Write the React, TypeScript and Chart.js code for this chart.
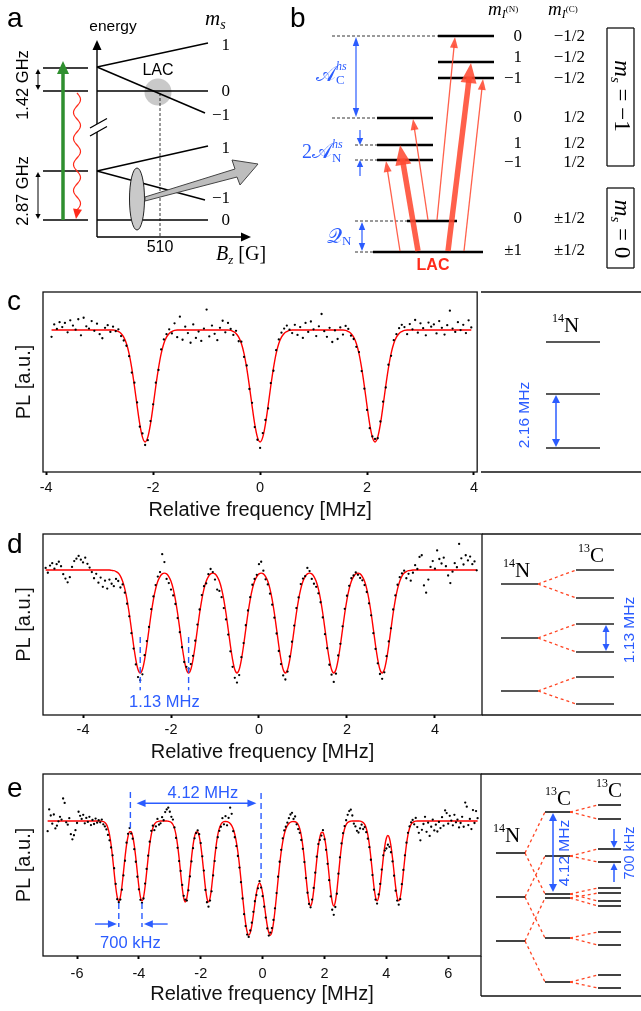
import { useEffect, useRef } from "react";
import { Chart, registerables } from "chart.js";
Chart.register(...registerables);

const SANS = '"Liberation Sans", Arial, Helvetica, sans-serif';
const SERIF = '"Liberation Serif", "DejaVu Serif", serif';
const BLUE = "#2b5cff";
const FIT_RED = "#ff0000";
const LINK_RED = "#ff4422";
const ARROW_RED = "rgba(255,74,50,0.88)";
const sans = (s: number, w = "") => `${w} ${s}px ${SANS}`.trim();
const serif = (s: number, st = "") => `${st} ${s}px ${SERIF}`.trim();

// ---------------- panel c : 14N hyperfine spectrum ----------------
const C_X_START = -3.9;
const C_X_STEP = 0.05;
const C_TICKS = [-4, -2, 0, 2, 4];
const C_PL = [
  98.2, 101.5, 100.3, 102.1, 100.8, 101.9, 99.4, 102.6, 101.2, 100.1,
  102.9, 98.6, 103.3, 101.0, 100.4, 102.4, 99.8, 101.7, 98.9, 97.8,
  100.6, 101.3, 99.5, 100.9, 99.7, 100.2,
  98.4, 97.2, 95.8, 93.0, 88.6, 85.9, 80.6, 74.1, 72.3, 69.2,
  70.5, 75.6, 80.1, 85.9, 89.3, 94.8, 97.5, 98.9, 100.2, 99.1,
  101.8, 98.1, 103.6, 97.4, 100.9, 99.2, 96.6, 101.5, 97.9, 99.6,
  97.1, 100.4, 105.5, 98.3, 101.2, 99.0, 97.3, 100.6, 102.5, 99.4,
  101.9, 100.3,
  98.7, 99.8, 97.0, 96.9, 92.8, 90.5, 84.2, 80.5, 74.0, 70.6,
  68.4, 72.4, 75.9, 79.0, 85.8, 89.1, 94.6, 97.5, 99.3, 100.4,
  101.2,
  100.1, 99.2, 101.4, 98.7, 100.8, 97.9, 101.9, 99.5, 102.3, 100.2,
  98.4, 101.0, 104.3, 99.7, 98.2, 100.6, 96.8, 99.9, 97.6, 100.7,
  98.8, 101.1,
  100.3, 98.5, 97.6, 95.5, 94.1, 89.0, 84.3, 78.6, 73.7, 71.5,
  70.8, 71.0, 75.5, 80.8, 84.6, 90.7, 93.1, 97.3, 98.9, 100.5,
  101.4,
  100.8, 98.9, 101.6, 100.2, 102.7, 99.3, 101.8, 100.5, 98.6, 102.0,
  100.9, 101.5, 99.1, 102.4, 100.6, 98.8, 101.3, 105.2, 100.4, 99.5,
  102.1, 100.0, 101.4, 99.2, 102.6, 100.7,
];
const C_FIT = [
  100, 100, 100, 100, 100, 100, 100, 100, 100, 100,
  100, 100, 100, 100, 100, 100, 100, 100, 100, 100,
  100, 100, 100, 100,
  99.9, 99.6, 99.1, 98.1, 96.4, 93.7, 89.8, 85.0, 79.7, 74.8, 71.3, 70.0,
  71.3, 74.8, 79.7, 85.0, 89.8, 93.7, 96.4, 98.1, 99.1, 99.6, 99.9,
  100, 100, 100, 100, 100, 100, 100, 100, 100, 100,
  100, 100, 100, 100, 100, 100, 100, 100, 100, 100,
  99.9, 99.6, 99.1, 98.1, 96.4, 93.7, 89.8, 85.0, 79.7, 74.8, 71.3, 70.0,
  71.3, 74.8, 79.7, 85.0, 89.8, 93.7, 96.4, 98.1, 99.1, 99.6, 99.9,
  100, 100, 100, 100, 100, 100, 100, 100, 100, 100,
  100, 100, 100, 100, 100, 100, 100, 100, 100, 100,
  99.9, 99.6, 99.1, 98.1, 96.4, 93.7, 89.8, 85.0, 79.7, 74.8, 71.3, 70.0,
  71.3, 74.8, 79.7, 85.0, 89.8, 93.7, 96.4, 98.1, 99.1, 99.6, 99.9,
  100, 100, 100, 100, 100, 100, 100, 100, 100, 100,
  100, 100, 100, 100, 100, 100, 100, 100, 100, 100,
  100, 100, 100, 100, 100,
];

// ---------------- panel d : 14N + one 13C ----------------
const D_X_START = -4.85;
const D_X_STEP = 0.05;
const D_TICKS = [-4, -2, 0, 2, 4];
const D_PL = [
  100.6, 99.2, 101.3, 102.0, 100.4, 101.7, 102.4, 101.1, 98.8, 97.5,
  96.4, 97.9, 100.9, 102.6, 103.3, 104.1, 103.0, 102.2, 103.6, 101.8,
  100.7, 99.4, 97.6, 98.9, 96.3, 97.8, 95.1, 96.9, 94.6, 97.2,
  96.0, 95.3, 97.4, 96.8, 94.9, 95.8, 93.4, 90.2, 86.5, 81.6, 77.1, 72.5, 68.8, 67.9,
  69.6, 75.2, 79.3, 83.4, 88.6, 92.3, 95.6, 98.1, 99.4, 104.6, 102.3,
  97.4, 96.2, 94.3, 92.6, 90.1, 86.0, 81.9, 77.5, 73.2, 71.8, 71.2,
  72.6, 75.0, 79.4, 84.1, 88.5, 92.7, 95.3, 96.1, 98.8, 100.3, 99.4,
  97.2, 94.3, 93.9, 92.1, 88.9, 85.6, 81.2, 76.3, 71.8, 68.6, 67.2,
  69.4, 74.6, 78.7, 83.9, 88.2, 92.1, 95.7, 97.4, 98.6, 101.7, 102.4,
  99.8, 97.3, 95.8, 93.1, 89.9, 86.1, 81.5, 76.4, 72.6, 69.3, 68.1,
  70.4, 74.8, 79.1, 83.8, 88.9, 92.0, 95.9, 97.5, 98.2, 100.6, 99.7,
  97.4, 96.0, 95.1, 93.2, 90.6, 86.2, 81.3, 77.2, 72.4, 69.5, 67.4,
  69.8, 75.1, 78.5, 83.6, 88.7, 92.5, 95.4, 97.6, 98.4, 99.3, 98.6,
  97.7, 97.0, 95.6, 93.6, 90.3, 86.8, 81.6, 77.0, 72.8, 69.7, 68.3,
  70.2, 74.9, 79.2, 83.0, 88.5, 92.6, 95.7, 97.9, 99.0, 99.8, 97.6, 98.9, 96.9,
  99.2, 101.4, 100.3, 103.8, 104.3, 95.5, 93.4, 97.2, 100.9, 102.6,
  100.4, 105.7, 103.2, 101.9, 103.6, 101.1, 98.4, 96.2, 99.5, 102.0,
  100.8, 107.6, 103.4, 101.6, 104.3, 102.8, 103.9, 101.7, 102.5, 99.9,
];
const D_FIT = [
  100, 100, 100, 100, 100, 100, 100, 100, 100, 100,
  100, 100, 100, 100, 100, 100, 100, 100, 100, 100,
  100, 100, 100, 100, 100, 100, 100, 100, 100, 100,
  99.9, 99.8, 99.55, 99.1, 98.2, 96.7, 94.5, 91.4, 87.4, 82.75, 78.0, 73.9, 71.0, 70.0,
  71.0, 73.9, 78.0, 82.75, 87.4, 91.4, 94.5, 96.7, 98.1, 98.86, 99.09,
  98.86, 98.1, 96.7, 94.5, 91.4, 87.4, 82.75, 78.0, 73.9, 71.0, 70.0,
  71.0, 73.9, 78.0, 82.75, 87.4, 91.4, 94.5, 96.7, 98.1, 98.86, 99.09,
  98.86, 98.1, 96.7, 94.5, 91.4, 87.4, 82.75, 78.0, 73.9, 71.0, 70.0,
  71.0, 73.9, 78.0, 82.75, 87.4, 91.4, 94.5, 96.7, 98.1, 98.86, 99.09,
  98.86, 98.1, 96.7, 94.5, 91.4, 87.4, 82.75, 78.0, 73.9, 71.0, 70.0,
  71.0, 73.9, 78.0, 82.75, 87.4, 91.4, 94.5, 96.7, 98.1, 98.86, 99.09,
  98.86, 98.1, 96.7, 94.5, 91.4, 87.4, 82.75, 78.0, 73.9, 71.0, 70.0,
  71.0, 73.9, 78.0, 82.75, 87.4, 91.4, 94.5, 96.7, 98.1, 98.86, 99.09,
  98.86, 98.1, 96.7, 94.5, 91.4, 87.4, 82.75, 78.0, 73.9, 71.0, 70.0,
  71.0, 73.9, 78.0, 82.75, 87.4, 91.4, 94.5, 96.7, 98.2, 99.1, 99.55, 99.8, 99.9,
  100, 100, 100, 100, 100, 100, 100, 100, 100, 100,
  100, 100, 100, 100, 100, 100, 100, 100, 100, 100,
  100, 100, 100, 100, 100, 100, 100, 100, 100, 100,
];
const D_MARK_X = [-2.7, -1.6];
const D_MARK_Y = [80.5, 65.0];
const D_MARK_LABEL = "1.13 MHz";

// ---------------- panel e : 14N + two 13C ----------------
const E_X_START = -6.95;
const E_X_STEP = 0.05;
const E_TICKS = [-6, -4, -2, 0, 2, 4, 6];
const E_PL = [
  97.0, 103.4, 101.6, 99.2, 101.9, 97.8, 98.6, 99.9, 101.2, 100.4,
  106.6, 105.3, 99.6, 98.9, 100.8, 96.1, 94.6, 95.8, 97.3, 99.4,
  102.7, 101.5, 100.6, 101.8, 99.3, 100.9, 99.7, 101.2, 98.8, 100.3,
  99.1, 100.7, 99.5, 100.2, 99.6,
  100.4, 99.0, 98.4, 97.5, 95.9, 94.3, 92.2, 89.9, 86.1, 81.5,
  77.0, 76.1, 76.9, 79.8, 84.0, 88.3, 93.6, 96.2, 97.9, 96.3,
  94.8, 91.7, 88.0, 83.6, 79.9, 76.8, 75.9, 77.2, 81.6, 85.9,
  89.8, 93.9, 97.1, 98.6, 97.3, 98.4, 100.6, 98.9,
  99.3, 101.1, 100.2, 102.6, 103.4,
  103.9, 102.7, 101.2, 100.4, 98.1, 95.0, 92.1, 88.2, 85.3, 81.2,
  78.0, 76.9, 76.6, 79.6, 83.7, 88.1, 92.0, 94.9, 96.4, 97.2,
  96.1, 93.5, 89.6, 85.4, 79.7, 76.1, 74.8, 76.6, 79.3, 84.0,
  88.2, 92.1, 95.2, 97.1, 98.3, 100.8, 99.0, 101.4, 98.7, 100.9,
  103.9, 102.1, 97.0, 95.2, 92.6, 89.7, 86.3, 82.0, 77.2, 72.6,
  69.1, 66.6, 65.9, 67.8, 70.1, 73.3, 76.4, 78.2, 80.2, 82.3,
  80.4, 77.9, 74.8, 71.6, 68.4, 66.3, 67.2, 68.5, 70.9, 74.3,
  78.8, 83.6, 88.0, 91.5, 94.9, 97.2, 98.3, 99.5, 100.8, 101.9,
  102.4, 100.6, 101.3,
  99.0, 97.6, 96.5, 94.4, 91.8, 87.9, 83.2, 78.9, 75.6, 74.6,
  76.9, 80.3, 84.8, 89.5, 93.2, 94.4, 95.7, 97.3, 94.6, 91.5,
  87.4, 82.6, 77.8, 73.9, 72.4, 74.7, 78.6, 84.5, 89.3, 93.4,
  96.4, 98.5, 100.2, 101.8, 102.9, 103.3,
  101.6, 99.2, 98.4, 97.1, 96.6,
  97.8, 98.9, 97.6, 98.2, 96.7, 94.8, 92.3, 88.6, 84.1, 79.8,
  76.9, 75.7, 78.4, 81.5, 85.7, 89.9, 91.3, 91.9, 93.0, 92.4,
  90.8, 88.1, 83.9, 79.5, 76.6, 75.4, 77.0, 81.4, 85.6, 89.9,
  93.6, 96.5, 98.4, 99.6, 100.3, 99.0, 100.9,
  98.2, 96.5, 94.3, 97.4, 99.1, 101.2, 96.8, 99.5, 95.6, 98.3,
  100.4, 97.2, 98.9, 96.9, 99.7, 97.9, 101.1, 98.6, 103.1, 102.3,
  99.2, 101.5, 100.1, 98.7, 101.8, 99.6, 100.4, 98.1, 99.4, 101.2,
  98.3, 105.4, 104.2, 98.8, 100.6, 97.6, 103.2, 99.4, 102.9, 100.8,
];
const E_FIT = [
  100, 100, 100, 100, 100, 100, 100, 100, 100, 100,
  100, 100, 100, 100, 100, 100, 100, 100, 100, 100,
  100, 100, 100, 100, 100, 100, 100, 100, 100, 100,
  100, 100, 100, 100, 100,
  99.9, 99.8, 99.55, 98.97, 97.85, 95.96, 93.07, 89.24, 84.87, 80.66,
  77.63, 76.5, 77.63, 80.66, 84.85, 89.17, 92.89, 95.51, 96.82, 96.82,
  95.51, 92.89, 89.17, 84.85, 80.66, 77.63, 76.5, 77.63, 80.66, 84.87,
  89.24, 93.07, 95.96, 97.85, 98.97, 99.55, 99.8, 99.9,
  100, 100, 100, 100, 100,
  99.9, 99.82, 99.54, 98.95, 97.82, 95.91, 92.98, 89.1, 84.67, 80.41,
  77.34, 76.2, 77.34, 80.41, 84.65, 89.04, 92.8, 95.45, 96.77, 96.77,
  95.45, 92.8, 89.04, 84.65, 80.41, 77.34, 76.2, 77.34, 80.41, 84.67,
  89.1, 92.98, 95.91, 97.82, 98.95, 99.54, 99.78, 99.85, 99.79, 99.62,
  99.26, 98.64, 97.64, 96.09, 93.85, 90.88, 87.11, 82.77, 78.12, 73.68,
  69.97, 67.38, 66.41, 67.09, 69.23, 72.32, 75.76, 78.86, 80.96, 81.76,
  80.96, 78.86, 75.76, 72.32, 69.23, 67.09, 66.41, 67.38, 69.97, 73.68,
  78.12, 82.77, 87.11, 90.88, 93.85, 96.09, 97.64, 98.64, 99.26, 99.62,
  99.79, 99.84, 99.77,
  99.52, 98.9, 97.71, 95.7, 92.62, 88.55, 83.9, 79.42, 76.2, 75.0,
  76.2, 79.42, 83.88, 88.48, 92.43, 95.22, 96.61, 96.61, 95.22, 92.43,
  88.48, 83.88, 79.42, 76.2, 75.0, 76.2, 79.42, 83.9, 88.55, 92.62,
  95.7, 97.71, 98.9, 99.52, 99.81, 99.93,
  100, 100, 100, 100, 100,
  99.94, 99.82, 99.55, 98.97, 97.85, 95.96, 93.07, 89.24, 84.87, 80.66,
  77.63, 76.5, 77.63, 80.64, 84.81, 89.06, 92.62, 94.93, 95.7, 94.93,
  92.62, 89.06, 84.81, 80.64, 77.63, 76.5, 77.63, 80.66, 84.87, 89.24,
  93.07, 95.96, 97.85, 98.97, 99.55, 99.82, 99.94,
  100, 100, 100, 100, 100, 100, 100, 100, 100, 100,
  100, 100, 100, 100, 100, 100, 100, 100, 100, 100,
  100, 100, 100, 100, 100, 100, 100, 100, 100, 100,
  100, 100, 100, 100, 100, 100, 100, 100, 100, 100,
];
const E_SPLIT_X = [-4.275, -0.05];
const E_SPLIT_TOP = [108.5, 108.2];
const E_SPLIT_BOTTOM = [96.8, 83.2];
const E_SPLIT_LABEL = "4.12 MHz";
const E_PAIR_X = [-4.65, -3.9];
const E_PAIR_Y = [75.9, 68.8];
const E_PAIR_LABEL = "700 kHz";

// ---------------- schematic level diagrams (page units) ----------------
const A_LEVELS = [[43, 68, 88, 68], [43, 91, 88, 91], [43, 171, 88, 171], [43, 220, 88, 220]];
const A_ZEEMAN = [[97, 67, 208, 43], [97, 67, 205, 113], [97, 91, 208, 91], [97, 171, 208, 146], [97, 171, 205, 200], [97, 220, 208, 220]];
const A_MS = ["1", "0", "−1", "1", "−1", "0"];
const A_MS_Y = [46, 92, 116, 149, 199, 221];
const A_GUIDE = [[160, 93, 160, 237]];

const B_LEVELS = [[438, 36, 494, 36], [438, 62, 494, 62], [438, 78, 494, 78], [377, 118, 433, 118], [377, 145, 433, 145], [377, 160, 433, 160], [407, 221, 457, 221], [373, 252, 483, 252]];
const B_GUIDES = [[332, 36, 438, 36], [332, 118, 377, 118], [355, 145, 377, 145], [355, 160, 377, 160], [355, 221, 407, 221], [355, 252, 373, 252]];
const B_MIN = ["0", "1", "−1", "0", "1", "−1", "0", "±1"];
const B_MIC = ["−1/2", "−1/2", "−1/2", "1/2", "1/2", "1/2", "±1/2", "±1/2"];
const B_ROW_Y = [37, 58, 79, 118, 144, 163, 219, 251];
const B_BOXES = [
  [607, 28, 634, 28], [634, 28, 634, 166], [634, 166, 607, 166], [607, 166, 607, 28],
  [607, 188, 634, 188], [634, 188, 634, 268], [634, 268, 607, 268], [607, 268, 607, 188],
];
const B_THIN = [[400, 251, 386, 161], [428, 220, 413, 119], [437, 220, 455, 37], [464, 251, 483, 79]];
const B_THICK = [[418, 251, 400, 145], [448, 251, 471, 63]];

const DIAG_FRAMES = [
  [481, 292, 641, 292], [481, 472, 641, 472],
  [482, 534, 641, 534], [482, 715, 641, 715],
  [481, 774, 641, 774], [481, 996, 641, 996], [481, 956, 481, 996],
];
const C_DIAG_LEVELS = [[546, 342, 600, 342], [546, 394, 600, 394], [546, 448, 600, 448]];
const D_N_LEVELS = [[501, 584, 538, 584], [501, 638, 538, 638], [501, 691, 538, 691]];
const D_C_LEVELS = [[576, 570, 614, 570], [576, 598, 614, 598], [576, 624, 614, 624], [576, 652, 614, 652], [576, 677, 614, 677], [576, 704, 614, 704]];
const D_LINKS = [[538, 584, 576, 570], [538, 584, 576, 598], [538, 638, 576, 624], [538, 638, 576, 652], [538, 691, 576, 677], [538, 691, 576, 704]];
const E_N_Y = [853, 897, 941];
const E_C1_Y = [812, 856, 894, 898, 938, 982];
const E_C2_Y = [805, 819, 849, 862, 888, 893, 901, 906, 932, 945, 975, 988];
const E_LINKS1 = [[525, 853, 545, 812], [525, 853, 545, 894], [525, 897, 545, 856], [525, 897, 545, 938], [525, 941, 545, 898], [525, 941, 545, 982]];
const E_LINKS2 = [
  [570, 812, 598, 805], [570, 812, 598, 819], [570, 856, 598, 849], [570, 856, 598, 862],
  [570, 894, 598, 888], [570, 894, 598, 901], [570, 898, 598, 893], [570, 898, 598, 906],
  [570, 938, 598, 932], [570, 938, 598, 945], [570, 982, 598, 975], [570, 982, 598, 988],
];

const STYLES: any = {
  lvlA: { color: "#000", width: 1.5, dash: [] },
  lvlB: { color: "#000", width: 2.6, dash: [] },
  guide: { color: "#000", width: 0.8, dash: [3, 2] },
  frame: { color: "#111", width: 1.3, dash: [] },
  lvlD: { color: "#222", width: 1.7, dash: [] },
  link: { color: LINK_RED, width: 1.3, dash: [3, 3] },
};

const SEG_GROUPS = [
  { style: "lvlA", segs: A_LEVELS },
  { style: "lvlA", segs: A_ZEEMAN },
  { style: "guide", segs: A_GUIDE },
  { style: "lvlB", segs: B_LEVELS },
  { style: "guide", segs: B_GUIDES },
  { style: "frame", segs: B_BOXES },
  { style: "frame", segs: DIAG_FRAMES },
  { style: "lvlD", segs: C_DIAG_LEVELS },
  { style: "lvlD", segs: D_N_LEVELS },
  { style: "lvlD", segs: D_C_LEVELS },
  { style: "link", segs: D_LINKS },
  { style: "lvlD", segs: E_N_Y.map((y) => [496, y, 525, y]) },
  { style: "lvlD", segs: E_C1_Y.map((y) => [545, y, 570, y]) },
  { style: "lvlD", segs: E_C2_Y.map((y) => [598, y, 621, y]) },
  { style: "link", segs: E_LINKS1 },
  { style: "link", segs: E_LINKS2 },
];

// arrows: [x0, y0, x1, y1, color, width, headLen, headHalf, both]
const ARROWS: any[] = [
  [97, 237, 97, 40, "#000", 1.4, 10, 4.5, false],
  [97, 237, 251, 237, "#000", 1.4, 10, 4.5, false],
  [38, 69, 38, 90, "#000", 1, 5, 2.6, true],
  [38, 172, 38, 219, "#000", 1, 5, 2.6, true],
  [63, 220, 63, 61, "#2f8f2f", 3.5, 13, 6, false],
  [356, 37, 356, 117, BLUE, 1.2, 9, 3.2, true],
  [360, 130, 360, 145, BLUE, 1.2, 7, 3.2, false],
  [360, 176, 360, 160, BLUE, 1.2, 7, 3.2, false],
  [362, 222, 362, 251, BLUE, 1.2, 8, 3.2, true],
  ...B_THIN.map((s) => [...s, ARROW_RED, 1.3, 11, 4, false]),
  ...B_THICK.map((s) => [...s, ARROW_RED, 5.5, 20, 8, false]),
  [556, 395, 556, 447, BLUE, 1.5, 8, 4, true],
  [606, 625, 606, 651, BLUE, 1.5, 7, 3.5, true],
  [553, 813, 553, 892, BLUE, 1.5, 8, 4, true],
  [614, 829, 614, 848, BLUE, 1.5, 7, 3.5, false],
  [614, 882, 614, 863, BLUE, 1.5, 7, 3.5, false],
];

const T = (x: number, y: number, parts: any[], o: any = {}) => ({ x, y, parts, ...o });
const mid = { base: "middle", align: "center" };
const TEXTS: any[] = [
  T(7, 27, [["a", sans(28)]]),
  T(290, 27, [["b", sans(28)]]),
  T(7, 310, [["c", sans(28)]]),
  T(7, 553, [["d", sans(28)]]),
  T(7, 797, [["e", sans(28)]]),
  // panel a
  T(113, 27, [["energy", sans(15.5)]], mid),
  T(205, 25, [["m", serif(21, "italic")], ["s", serif(14, "italic"), 4]]),
  ...A_MS.map((t, i) => T(230, A_MS_Y[i], [[t, serif(17)]], { base: "middle", align: "right" })),
  T(158, 71, [["LAC", sans(16)]], mid),
  T(160, 248, [["510", sans(16)]], mid),
  T(216, 260, [["B", serif(20, "italic")], ["z", serif(13, "italic"), 4], [" [G]", serif(20)]]),
  T(23, 85, [["1.42 GHz", sans(16.5)]], { ...mid, rot: -Math.PI / 2 }),
  T(23, 191, [["2.87 GHz", sans(16.5)]], { ...mid, rot: -Math.PI / 2 }),
  // panel b
  T(488, 15, [["m", serif(19, "italic")], ["I", serif(12, "italic"), 3], ["(N)", serif(9), -3]]),
  T(548, 15, [["m", serif(19, "italic")], ["I", serif(12, "italic"), 3], ["(C)", serif(9), -3]]),
  ...B_MIN.map((t, i) => T(522, B_ROW_Y[i], [[t, serif(17)]], { base: "middle", align: "right" })),
  ...B_MIC.map((t, i) => T(585, B_ROW_Y[i], [[t, serif(17)]], { base: "middle", align: "right" })),
  T(316, 81, [["𝒜", serif(21)], ["hs", serif(12, "italic"), -11, 0], ["C", serif(13), 3]], { color: BLUE }),
  T(302, 158, [["2", serif(20)], ["𝒜", serif(21)], ["hs", serif(12, "italic"), -10, 0], ["N", serif(13), 4]], { color: BLUE }),
  T(327, 243, [["𝒬", serif(21)], ["N", serif(13), 2]], { color: BLUE }),
  T(433, 266, [["LAC", sans(16, "bold")]], { ...mid, color: "#ff2a1a" }),
  T(615, 96, [["m", serif(23, "italic")], ["s", serif(15, "italic"), 4], [" = −1", serif(23)]], { align: "center", rot: Math.PI / 2 }),
  T(615, 229, [["m", serif(23, "italic")], ["s", serif(15, "italic"), 4], [" = 0", serif(23)]], { align: "center", rot: Math.PI / 2 }),
  // c diagram
  T(552, 332, [["14", serif(12), -10], ["N", serif(21)]]),
  T(525, 415, [["2.16 MHz", sans(15.5)]], { ...mid, rot: -Math.PI / 2, color: BLUE }),
  // d diagram
  T(503, 577, [["14", serif(12), -10], ["N", serif(21)]]),
  T(578, 562, [["13", serif(12), -10], ["C", serif(21)]]),
  T(630, 630, [["1.13 MHz", sans(15.5)]], { ...mid, rot: -Math.PI / 2, color: BLUE }),
  // e diagram
  T(493, 842, [["14", serif(12), -10], ["N", serif(21)]]),
  T(545, 805, [["13", serif(12), -10], ["C", serif(21)]]),
  T(596, 797, [["13", serif(12), -10], ["C", serif(21)]]),
  T(565, 853, [["4.12 MHz", sans(15.5)]], { ...mid, rot: -Math.PI / 2, color: BLUE }),
  T(630, 853, [["700 kHz", sans(14.5)]], { ...mid, rot: -Math.PI / 2, color: BLUE }),
];

// ---------------- drawing helpers ----------------
function drawRich(ctx: CanvasRenderingContext2D, x: number, y: number, it: any) {
  ctx.save();
  ctx.translate(x, y);
  if (it.rot) ctx.rotate(it.rot);
  ctx.textBaseline = it.base || "alphabetic";
  ctx.textAlign = "left";
  ctx.fillStyle = it.color || "#000";
  let total = 0;
  const ws = it.parts.map((p: any) => {
    ctx.font = p[1];
    const w = ctx.measureText(p[0]).width;
    if (p[3] !== 0) total += w;
    return w;
  });
  let cx = it.align === "center" ? -total / 2 : it.align === "right" ? -total : 0;
  it.parts.forEach((p: any, i: number) => {
    ctx.font = p[1];
    ctx.fillText(p[0], cx, p[2] || 0);
    if (p[3] !== 0) cx += ws[i];
  });
  ctx.restore();
}

function head(ctx: CanvasRenderingContext2D, x0: number, y0: number, x1: number, y1: number, len: number, half: number) {
  const a = Math.atan2(y1 - y0, x1 - x0);
  const c = Math.cos(a), s = Math.sin(a);
  ctx.beginPath();
  ctx.moveTo(x1, y1);
  ctx.lineTo(x1 - len * c + half * s, y1 - len * s - half * c);
  ctx.lineTo(x1 - len * c - half * s, y1 - len * s + half * c);
  ctx.closePath();
  ctx.fill();
}

function arrow(ctx: CanvasRenderingContext2D, x0: number, y0: number, x1: number, y1: number, color: string, w: number, len: number, half: number, both: boolean) {
  const a = Math.atan2(y1 - y0, x1 - x0);
  const c = Math.cos(a), s = Math.sin(a);
  ctx.save();
  ctx.strokeStyle = color;
  ctx.fillStyle = color;
  ctx.lineWidth = w;
  ctx.beginPath();
  const sx = both ? x0 + len * 0.7 * c : x0, sy = both ? y0 + len * 0.7 * s : y0;
  ctx.moveTo(sx, sy);
  ctx.lineTo(x1 - len * 0.7 * c, y1 - len * 0.7 * s);
  ctx.stroke();
  head(ctx, x0, y0, x1, y1, len, half);
  if (both) head(ctx, x1, y1, x0, y0, len, half);
  ctx.restore();
}

const overlayPlugin = {
  id: "overlay",
  beforeDatasetsDraw(chart: any) {
    const { ctx } = chart;
    const X = (v: number) => chart.scales.x.getPixelForValue(v);
    const Y = (v: number) => chart.scales.y.getPixelForValue(v);
    ctx.save();
    ctx.fillStyle = "#c9c9c9";
    ctx.beginPath();
    ctx.arc(X(158), Y(92), 13.5, 0, Math.PI * 2);
    ctx.fill();
    ctx.restore();
  },
  afterDatasetsDraw(chart: any) {
    const { ctx } = chart;
    const X = (v: number) => chart.scales.x.getPixelForValue(v);
    const Y = (v: number) => chart.scales.y.getPixelForValue(v);
    ARROWS.forEach((r) => arrow(ctx, X(r[0]), Y(r[1]), X(r[2]), Y(r[3]), r[4], r[5], r[6], r[7], r[8]));
    ctx.save();
    // axis break
    ctx.fillStyle = "#fff";
    ctx.beginPath();
    ctx.moveTo(X(90), Y(128)); ctx.lineTo(X(106), Y(119)); ctx.lineTo(X(106), Y(127)); ctx.lineTo(X(90), Y(136));
    ctx.closePath(); ctx.fill();
    ctx.strokeStyle = "#000"; ctx.lineWidth = 1.3;
    ctx.beginPath();
    ctx.moveTo(X(90), Y(128)); ctx.lineTo(X(107), Y(118.5));
    ctx.moveTo(X(90), Y(136)); ctx.lineTo(X(107), Y(126.5));
    ctx.stroke();
    // red wavy decay
    ctx.strokeStyle = "#ff2a1a"; ctx.lineWidth = 1.2;
    ctx.beginPath();
    for (let yy = 93; yy <= 210; yy += 1) {
      const xx = 77 + 3.5 * Math.sin(((yy - 93) / 26) * Math.PI * 2);
      if (yy === 93) ctx.moveTo(X(xx), Y(yy)); else ctx.lineTo(X(xx), Y(yy));
    }
    ctx.stroke();
    ctx.fillStyle = "#ff2a1a";
    head(ctx, X(78), Y(206), X(76), Y(219), 10, 4.5);
    // ellipse
    ctx.fillStyle = "#c9c9c9"; ctx.strokeStyle = "#222"; ctx.lineWidth = 1;
    ctx.beginPath();
    ctx.ellipse(X(137), Y(199), 7.5, 31, 0, 0, Math.PI * 2);
    ctx.fill(); ctx.stroke();
    // big gray arrow
    ctx.fillStyle = "#bdbdbd"; ctx.strokeStyle = "#444";
    ctx.beginPath();
    const P = [[145, 197], [235, 169], [232, 160], [258, 164], [240, 185], [237, 177], [145, 201]];
    P.forEach((p, i) => (i ? ctx.lineTo(X(p[0]), Y(p[1])) : ctx.moveTo(X(p[0]), Y(p[1]))));
    ctx.closePath(); ctx.fill(); ctx.stroke();
    ctx.restore();
    TEXTS.forEach((t) => drawRich(ctx, X(t.x), Y(t.y), t));
  },
};

function overlayConfig(): any {
  const datasets = SEG_GROUPS.flatMap((g) =>
    g.segs.map((s: number[]) => ({
      data: [{ x: s[0], y: s[1] }, { x: s[2], y: s[3] }],
      showLine: true,
      pointRadius: 0,
      borderColor: STYLES[g.style].color,
      borderWidth: STYLES[g.style].width,
      borderDash: STYLES[g.style].dash,
      fill: false,
      tension: 0,
      clip: false,
    }))
  );
  return {
    type: "scatter",
    data: { datasets },
    options: {
      animation: false,
      responsive: false,
      events: [],
      layout: { padding: 0, autoPadding: false },
      plugins: { legend: { display: false }, tooltip: { enabled: false } },
      scales: {
        x: { type: "linear", min: 0, max: 641, display: false },
        y: { type: "linear", min: 0, max: 1011, reverse: true, display: false },
      },
    },
    plugins: [overlayPlugin],
  };
}

// ---------------- spectra ----------------
function toPoints(start: number, step: number, ys: number[]) {
  return ys.map((y, i) => ({ x: Math.round((start + i * step) * 100) / 100, y }));
}

function framePlugin(annots: any[]) {
  return {
    id: "frame",
    afterDraw(chart: any) {
      const { ctx, chartArea: a } = chart;
      const X = (v: number) => chart.scales.x.getPixelForValue(v);
      const Y = (v: number) => chart.scales.y.getPixelForValue(v);
      ctx.save();
      ctx.strokeStyle = "#111";
      ctx.lineWidth = 1.3;
      ctx.strokeRect(a.left, a.top, a.right - a.left, a.bottom - a.top);
      for (const an of annots) {
        if (an.k === "vdash") {
          ctx.save();
          ctx.strokeStyle = BLUE; ctx.lineWidth = 1.4; ctx.setLineDash([6, 4]);
          ctx.beginPath(); ctx.moveTo(X(an.x), Y(an.y0)); ctx.lineTo(X(an.x), Y(an.y1)); ctx.stroke();
          ctx.restore();
        } else if (an.k === "arrow") {
          arrow(ctx, X(an.x0), Y(an.y0), X(an.x1), Y(an.y1), BLUE, 1.4, 9, 3.8, !!an.both);
        } else if (an.k === "text") {
          drawRich(ctx, X(an.x), Y(an.y), { parts: [[an.t, sans(16.5)]], base: "middle", align: "center", color: BLUE });
        }
      }
      ctx.restore();
    },
  };
}

function spectrumConfig(s: any): any {
  return {
    type: "scatter",
    data: {
      datasets: [
        { data: s.pts, showLine: false, pointRadius: 1.15, pointBackgroundColor: "#000", pointBorderWidth: 0, pointBorderColor: "#000" },
        { data: s.fit, showLine: true, borderColor: FIT_RED, borderWidth: 1.4, pointRadius: 0, fill: false, cubicInterpolationMode: "monotone" },
      ],
    },
    options: {
      animation: false,
      responsive: false,
      events: [],
      layout: { padding: { top: 7, right: 1, left: 0, bottom: 0 }, autoPadding: false },
      plugins: { legend: { display: false }, tooltip: { enabled: false } },
      scales: {
        x: {
          type: "linear",
          min: s.xMin,
          max: s.xMax,
          afterBuildTicks: (sc: any) => { sc.ticks = s.ticks.map((v: number) => ({ value: v })); },
          afterFit: (sc: any) => { sc.height = s.axisH; },
          ticks: { color: "#111", padding: s.tickPad, font: { family: SANS, size: 14.5 }, maxRotation: 0, autoSkip: false },
          grid: { display: true, drawOnChartArea: false, drawTicks: true, tickLength: 3, tickWidth: 2, tickColor: "#000" },
          border: { display: false },
          title: { display: true, text: "Relative frequency [MHz]", color: "#111", font: { family: SANS, size: 20 }, padding: { top: 0, bottom: s.titlePad } },
        },
        y: {
          type: "linear",
          min: s.yMin,
          max: s.yMax,
          afterFit: (sc: any) => { sc.width = 43; },
          ticks: { display: false },
          grid: { display: false },
          border: { display: false },
          title: { display: true, text: "PL [a.u.]", color: "#111", font: { family: SANS, size: 20 }, padding: { top: 12, bottom: 0 } },
        },
      },
    },
    plugins: [framePlugin(s.annots)],
  };
}

const C_SPEC = () => spectrumConfig({
  pts: toPoints(C_X_START, C_X_STEP, C_PL), fit: toPoints(C_X_START, C_X_STEP, C_FIT),
  xMin: -4.06, xMax: 4.06, yMin: 61.96, yMax: 110.2, ticks: C_TICKS, axisH: 58, tickPad: 4, titlePad: 8, annots: [],
});
const D_SPEC = () => spectrumConfig({
  pts: toPoints(D_X_START, D_X_STEP, D_PL), fit: toPoints(D_X_START, D_X_STEP, D_FIT),
  xMin: -4.91, xMax: 5.07, yMin: 57.76, yMax: 110.49, ticks: D_TICKS, axisH: 58, tickPad: 3, titlePad: 9,
  annots: [
    ...D_MARK_X.map((x) => ({ k: "vdash", x, y0: D_MARK_Y[0], y1: D_MARK_Y[1] })),
    { k: "text", x: (D_MARK_X[0] + D_MARK_X[1]) / 2, y: 61.3, t: D_MARK_LABEL },
  ],
});
const E_SPEC = () => spectrumConfig({
  pts: toPoints(E_X_START, E_X_STEP, E_PL), fit: toPoints(E_X_START, E_X_STEP, E_FIT),
  xMin: -7.1, xMax: 7.06, yMin: 60.3, yMax: 113.8, ticks: E_TICKS, axisH: 52, tickPad: 6, titlePad: 2,
  annots: [
    ...E_SPLIT_X.map((x, i) => ({ k: "vdash", x, y0: E_SPLIT_TOP[i], y1: E_SPLIT_BOTTOM[i] })),
    { k: "arrow", x0: E_SPLIT_X[0] + 0.2, y0: 105.2, x1: E_SPLIT_X[1] - 0.15, y1: 105.2, both: true },
    { k: "text", x: -1.93, y: 108.2, t: E_SPLIT_LABEL },
    ...E_PAIR_X.map((x) => ({ k: "vdash", x, y0: E_PAIR_Y[0], y1: E_PAIR_Y[1] })),
    { k: "arrow", x0: E_PAIR_X[0] - 0.77, y0: 69.7, x1: E_PAIR_X[0] - 0.06, y1: 69.7 },
    { k: "arrow", x0: E_PAIR_X[1] + 0.83, y0: 69.7, x1: E_PAIR_X[1] + 0.06, y1: 69.7 },
    { k: "text", x: (E_PAIR_X[0] + E_PAIR_X[1]) / 2, y: 64.1, t: E_PAIR_LABEL },
  ],
});

function ChartCanvas({ left, top, width, height, make, z }: any) {
  const ref = useRef<HTMLCanvasElement>(null);
  useEffect(() => {
    const chart = new Chart(ref.current as HTMLCanvasElement, make());
    return () => chart.destroy();
  }, []);
  return (
    <canvas
      ref={ref}
      width={width}
      height={height}
      style={{ position: "absolute", left, top, width, height, zIndex: z, pointerEvents: "none" }}
    />
  );
}

export default function App() {
  return (
    <div style={{ position: "absolute", left: 0, top: 0, width: 641, height: 1011, background: "#fff", overflow: "hidden" }}>
      <ChartCanvas left={0} top={285} width={482} height={245} make={C_SPEC} z={1} />
      <ChartCanvas left={0} top={527} width={483} height={246} make={D_SPEC} z={1} />
      <ChartCanvas left={0} top={767} width={482} height={241} make={E_SPEC} z={1} />
      <ChartCanvas left={0} top={0} width={641} height={1011} make={overlayConfig} z={2} />
    </div>
  );
}
